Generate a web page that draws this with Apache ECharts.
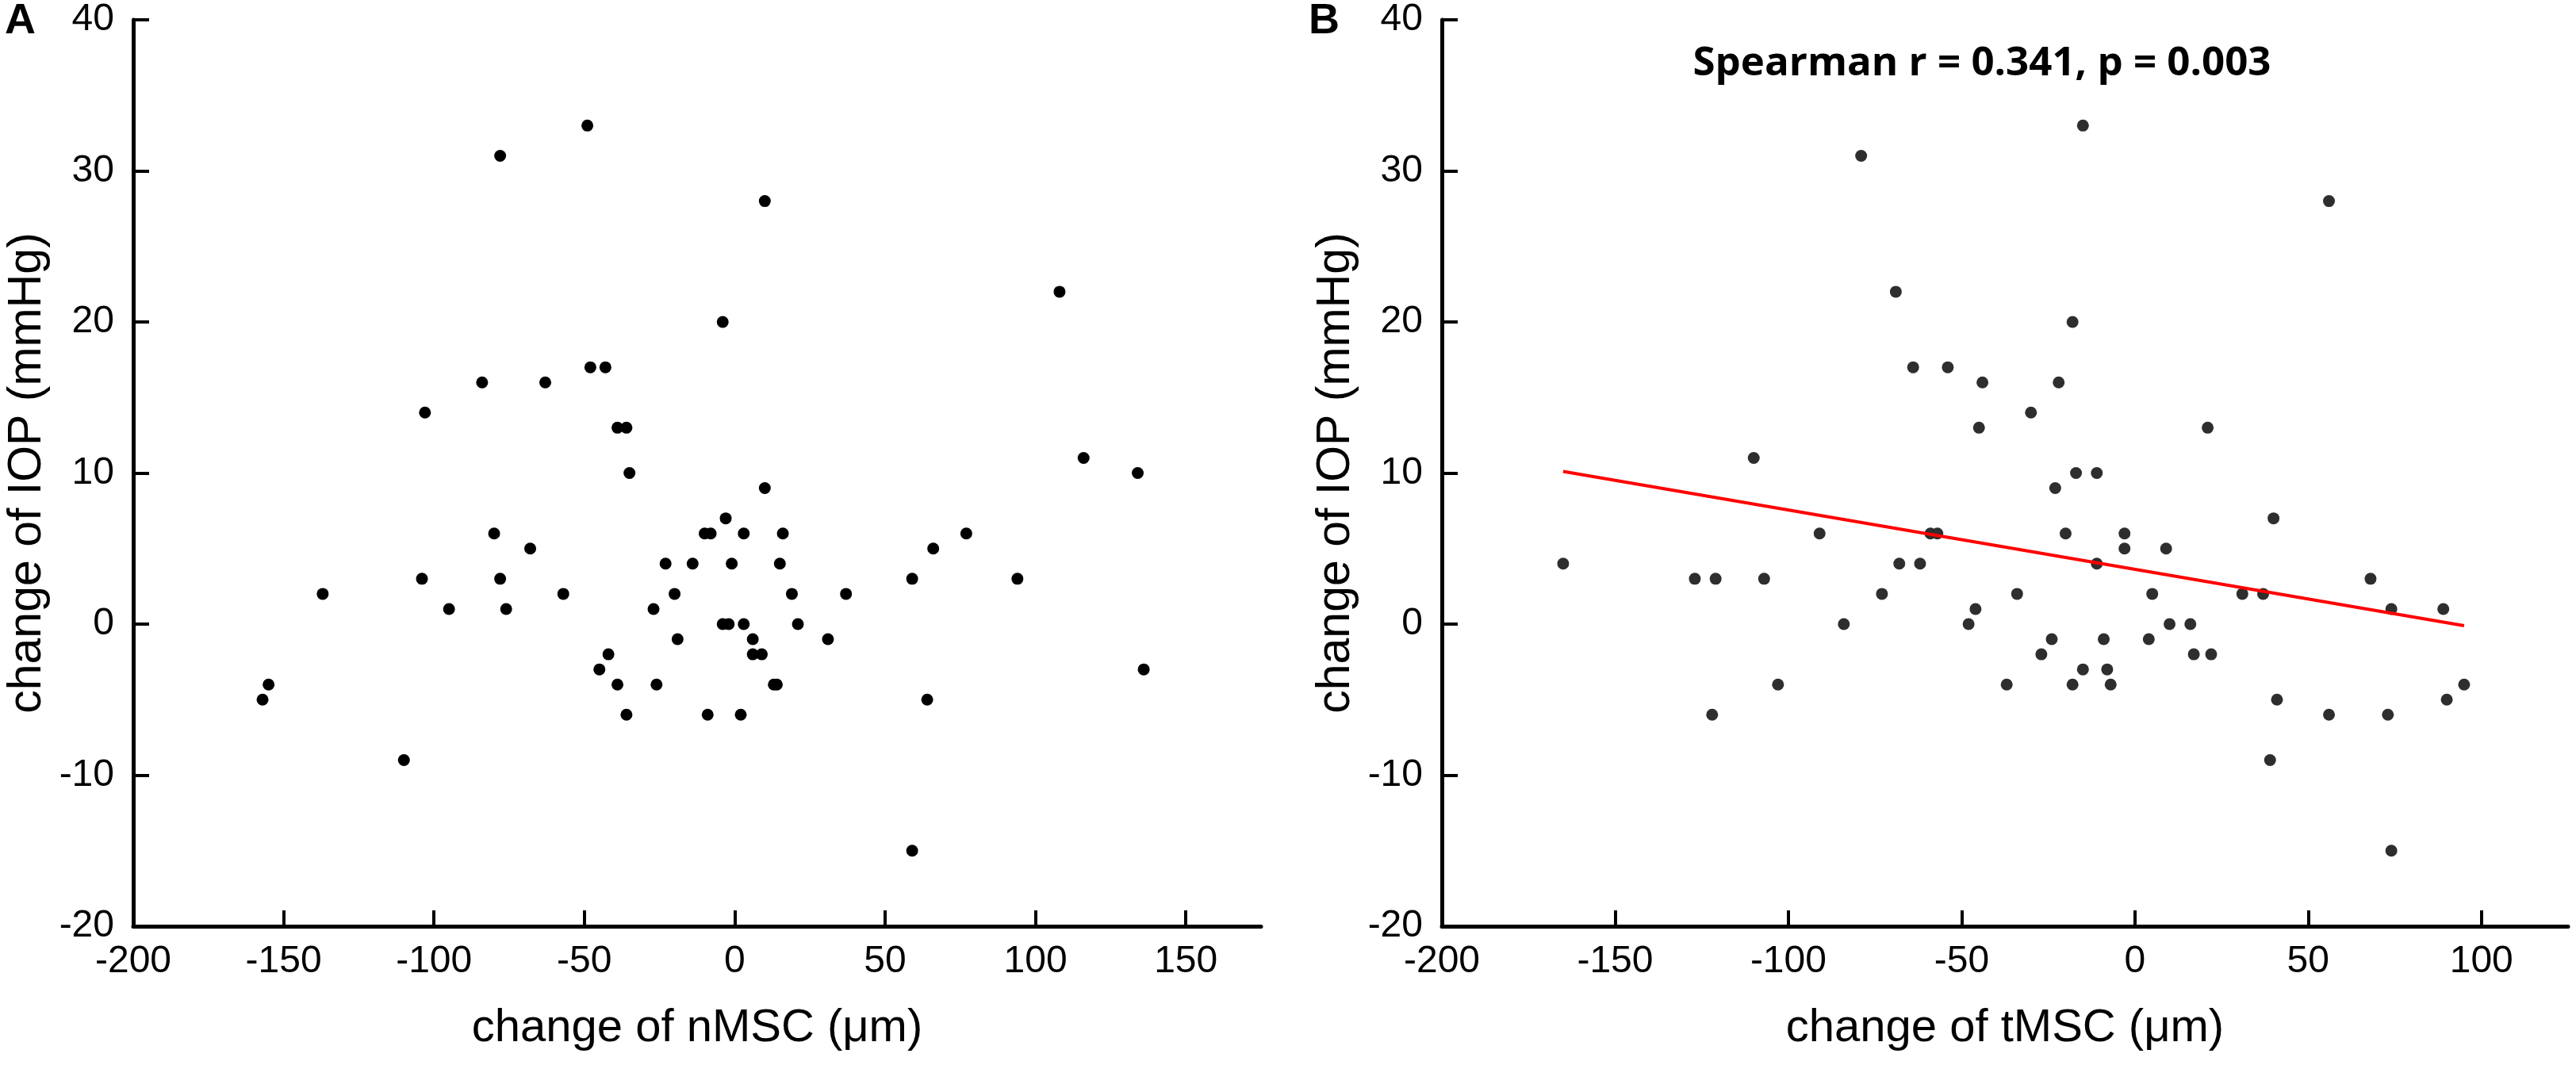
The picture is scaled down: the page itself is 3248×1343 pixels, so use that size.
<!DOCTYPE html>
<html lang="en">
<head>
    <meta charset="UTF-8">
    <title>IOP vs MSC</title>
    <style>
        body,html{
            margin: 0;
            background: #fff;
        }
        #chart{
            width: 3248px;
            height: 1343px;
        }
    </style>
</head>
<body>

<div id="chart"></div>

<script src="https://cdn.jsdelivr.net/npm/echarts@6/dist/echarts.min.js"></script>
<script type="text/javascript">

    // panel A: change of nMSC vs change of IOP
    let nmscX = [-49,-78,10,108,-4,-84,-63,-48,-43,-103,-39,-36,-35,116,134,10,-3,-10,-8,3,16,77,-80,-68,66,
        -23,-14,-1,15,-104,-78,59,94,-137,-57,-20,19,37,-95,-76,-27,-4,-2,3,21,-19,6,31,-42,6,9,-45,136,
        -155,-39,-26,13,14,-157,64,-36,-9,2,-110,59];
    let nmscY = [33,31,28,22,20,16,16,17,17,14,13,13,10,11,10,9,7,6,6,6,6,6,6,5,5,
        4,4,4,4,3,3,3,3,2,2,2,2,2,1,1,1,0,0,0,0,-1,-1,-1,-2,-2,-2,-3,-3,
        -4,-4,-4,-4,-4,-5,-5,-6,-6,-6,-9,-15];

    // panel B: change of tMSC vs change of IOP
    let tmscX = [-15,-79,56,-69,-18,-64,-54,-44,-22,-30,-45,21,-110,-17,-11,-23,40,-91,-59,-57,-20,-3,-3,9,
        -165,-68,-62,-11,-127,-121,-107,68,-73,-34,5,31,37,-46,74,89,-84,-48,10,16,-24,-9,4,-27,17,22,
        -15,-8,-103,-37,-18,-7,95,41,90,-122,56,73,39,74];
    let tmscY = [33,31,28,22,20,17,17,16,16,14,13,13,11,10,10,9,7,6,6,6,6,6,5,5,
        4,4,4,4,3,3,3,3,2,2,2,2,2,1,1,1,0,0,0,0,-1,-1,-1,-2,-2,-2,
        -3,-3,-4,-4,-4,-4,-4,-5,-5,-6,-6,-6,-9,-15];

    // fitted line end points
    let fitLine = [[-165,10.1],[95,-0.1]];

    let yTicks = [-20,-10,0,10,20,30,40];
    let xTicksA = [-200,-150,-100,-50,0,50,100,150];
    let xTicksB = [-200,-150,-100,-50,0,50,100];

    function zip(xs,ys) {
        let out = [];
        for(let i=0;i<xs.length;i++){
            out.push([xs[i],ys[i]]);
        }
        return out;
    }

    let font = '"Liberation Sans", Arial, sans-serif';

    function xAxisOf(idx,max,ticks,name) {
        return {
            type:'value', gridIndex:idx, min:-200, max:max, interval:50,
            axisLine:{show:true, onZero:false, lineStyle:{color:'#000', width:5}},
            axisTick:{show:true, inside:true, length:20, customValues:ticks, lineStyle:{color:'#000', width:4}},
            axisLabel:{customValues:ticks, fontSize:48, color:'#000', fontFamily:font, margin:21},
            splitLine:{show:false},
            name:name, nameLocation:'middle', nameGap:100,
            nameTextStyle:{fontSize:58, color:'#000', fontFamily:font}
        };
    }
    function yAxisOf(idx) {
        return {
            type:'value', gridIndex:idx, min:-20, max:40, interval:10,
            axisLine:{show:true, onZero:false, lineStyle:{color:'#000', width:5}},
            axisTick:{show:true, inside:true, length:20, customValues:yTicks, lineStyle:{color:'#000', width:4}},
            axisLabel:{customValues:yTicks, fontSize:48, color:'#000', fontFamily:font, margin:24},
            splitLine:{show:false},
            name:'change of IOP (mmHg)', nameLocation:'middle', nameGap:104,
            nameTextStyle:{fontSize:59, color:'#000', fontFamily:font}
        };
    }

    let myChart = echarts.init(document.getElementById("chart"));
    let option = {
        backgroundColor:'#fff',
        animation:false,
        grid:[
            {left:168, top:25, width:1422, height:1143},
            {left:1818, top:25, width:1420, height:1143}
        ],
        xAxis:[
            xAxisOf(0,175,xTicksA,'change of nMSC (μm)'),
            xAxisOf(1,125,xTicksB,'change of tMSC (μm)')
        ],
        yAxis:[yAxisOf(0), yAxisOf(1)],
        graphic:[
            {type:'text', x:6, y:27, style:{text:'A', font:'bold 54px ' + font, fill:'#000', verticalAlign:'middle', textVerticalAlign:'middle'}},
            {type:'text', x:1650, y:27, style:{text:'B', font:'bold 54px ' + font, fill:'#000', verticalAlign:'middle', textVerticalAlign:'middle'}},
            {type:'text', x:2499, y:80, style:{text:'Spearman r = 0.341, p = 0.003', font:'bold 51px "Open Sans", sans-serif', fill:'#000',
                align:'center', textAlign:'center', verticalAlign:'middle', textVerticalAlign:'middle'}}
        ],
        series:[
            {
                type:'scatter', xAxisIndex:0, yAxisIndex:0,
                data:zip(nmscX,nmscY), symbolSize:15,
                itemStyle:{color:'#000', opacity:1}
            },
            {
                type:'scatter', xAxisIndex:1, yAxisIndex:1,
                data:zip(tmscX,tmscY), symbolSize:15,
                itemStyle:{color:'#2e2e2e', opacity:1}
            },
            {
                type:'line', xAxisIndex:1, yAxisIndex:1,
                data:fitLine, symbol:'none', z:5,
                lineStyle:{color:'#f00', width:4}
            }
        ]
    };
    myChart.setOption(option);
</script>
</body>
</html>
